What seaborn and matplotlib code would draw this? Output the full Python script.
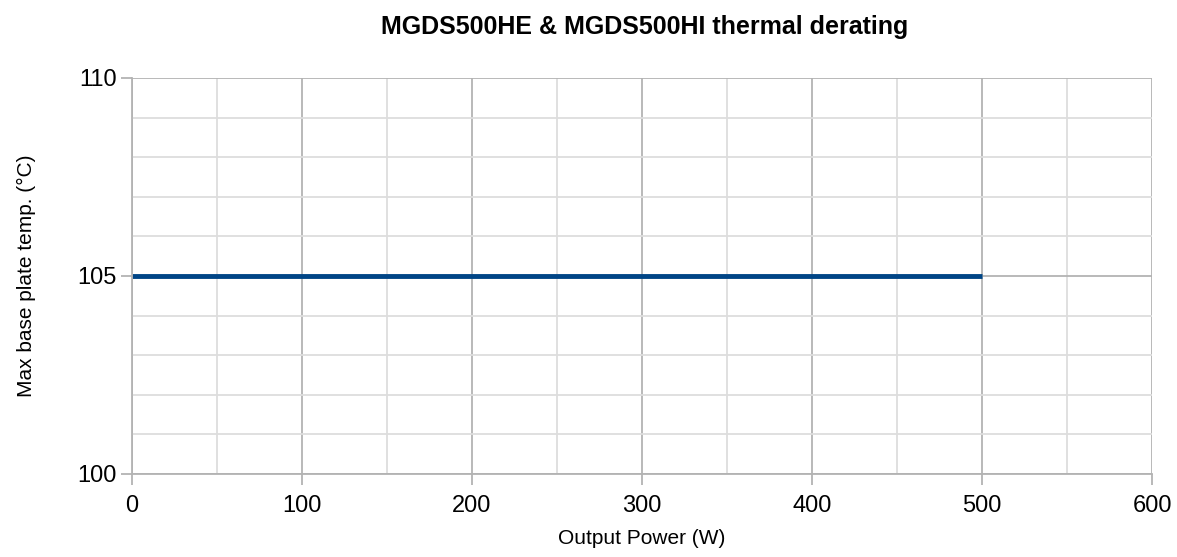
import matplotlib
matplotlib.use("Agg")
import matplotlib.pyplot as plt
from matplotlib.ticker import MultipleLocator
import seaborn as sns
import pandas as pd

# Data
power_w = [0, 500]
max_temp_c = [105, 105]

df = pd.DataFrame({"Output Power (W)": power_w, "Max base plate temp. (°C)": max_temp_c})

sns.set_theme(style="white")
plt.rcParams['font.family'] = ['Liberation Sans', 'DejaVu Sans']
plt.rcParams['text.color'] = 'black'
plt.rcParams['axes.labelcolor'] = 'black'

fig = plt.figure(figsize=(11.77, 5.57), dpi=100)
ax = fig.add_axes([132 / 1177, 1 - 474 / 557, 1020 / 1177, 396 / 557])

sns.lineplot(data=df, x="Output Power (W)", y="Max base plate temp. (°C)",
             color="#004586", linewidth=3.5, solid_capstyle="butt", ax=ax)

ax.set_xlim(0, 600)
ax.set_ylim(100, 110)
ax.xaxis.set_major_locator(MultipleLocator(100))
ax.xaxis.set_minor_locator(MultipleLocator(50))
ax.yaxis.set_major_locator(MultipleLocator(5))
ax.yaxis.set_minor_locator(MultipleLocator(1))

ax.grid(which="major", color="#b3b3b3", linewidth=1.3)
ax.grid(which="minor", color="#dddddd", linewidth=1.3)
ax.set_axisbelow(True)

for side in ["top", "right"]:
    ax.spines[side].set_visible(False)
for side in ["left", "bottom"]:
    ax.spines[side].set_color("#b3b3b3")
    ax.spines[side].set_linewidth(1.3)

ax.tick_params(axis="both", which="major", bottom=True, left=True, length=8, width=1.3,
               color="#b3b3b3", labelsize=17, labelcolor="black")
ax.tick_params(axis="both", which="minor", length=0)
ax.tick_params(axis="x", pad=7)
ax.tick_params(axis="y", pad=3)

ax.set_xlabel("Output Power (W)", fontsize=15, labelpad=9)
ax.set_ylabel("Max base plate temp. (°C)", fontsize=15, labelpad=30)

fig.text(645 / 1177, 1 - 27 / 557, "MGDS500HE & MGDS500HI thermal derating",
         ha="center", va="center", fontsize=18, fontweight="bold",
         family=["Liberation Sans Narrow", "Liberation Sans", "DejaVu Sans"])

fig.savefig("out.png", dpi=100)
